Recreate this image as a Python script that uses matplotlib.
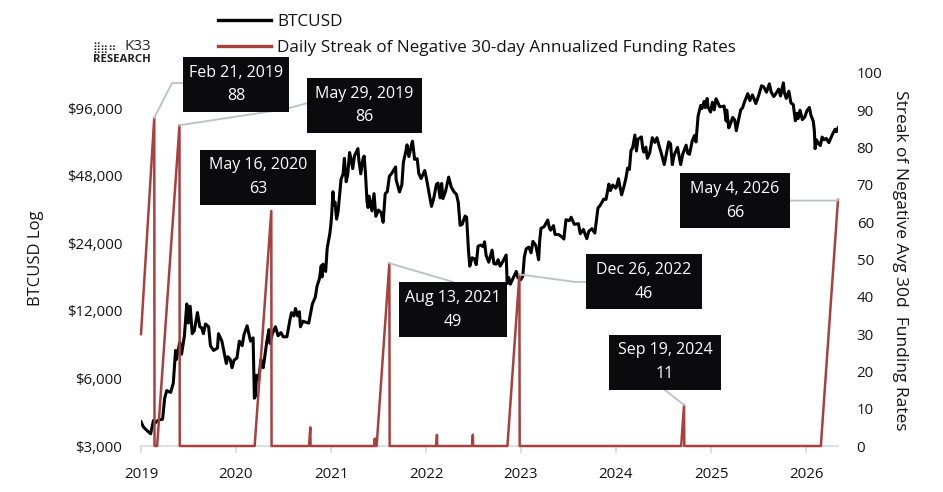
import matplotlib
matplotlib.use("Agg")
import matplotlib.pyplot as plt
import matplotlib.dates as mdates
from matplotlib.patches import Rectangle
from matplotlib.lines import Line2D
from matplotlib.ticker import FixedLocator, FuncFormatter, NullLocator
import pandas as pd

plt.rcParams["font.family"] = ["Open Sans", "DejaVu Sans"]

# ---------------------------------------------------------------------------
# Data
# ---------------------------------------------------------------------------

btc_dates = [
    # 2019
    "2019-01-01", "2019-01-10", "2019-01-20", "2019-02-01", "2019-02-07", "2019-02-18", "2019-02-24",
    "2019-03-10", "2019-03-25", "2019-04-02", "2019-04-10", "2019-04-25", "2019-05-05", "2019-05-14",
    "2019-05-17", "2019-05-30", "2019-06-06", "2019-06-17", "2019-06-26", "2019-07-02", "2019-07-09",
    "2019-07-17", "2019-07-25", "2019-08-06", "2019-08-15", "2019-08-22", "2019-08-29", "2019-09-06",
    "2019-09-18", "2019-09-25", "2019-10-07", "2019-10-22", "2019-10-26", "2019-11-08", "2019-11-22",
    "2019-11-25", "2019-12-01", "2019-12-10", "2019-12-17", "2019-12-25",
    # 2020
    "2020-01-05", "2020-01-14", "2020-01-25", "2020-02-01", "2020-02-13", "2020-02-19", "2020-02-26",
    "2020-03-07", "2020-03-12", "2020-03-16", "2020-03-20", "2020-03-29", "2020-04-06", "2020-04-15",
    "2020-04-29", "2020-05-07", "2020-05-11", "2020-05-20", "2020-06-01", "2020-06-11", "2020-06-22",
    "2020-07-01", "2020-07-15", "2020-07-27", "2020-08-02", "2020-08-11", "2020-08-17", "2020-08-25",
    "2020-09-01", "2020-09-05", "2020-09-15", "2020-09-24", "2020-10-07", "2020-10-21", "2020-11-01",
    "2020-11-08", "2020-11-17", "2020-11-24", "2020-11-27", "2020-12-01", "2020-12-11", "2020-12-17",
    "2020-12-27", "2020-12-31",
    # 2021
    "2021-01-03", "2021-01-08", "2021-01-11", "2021-01-16", "2021-01-22", "2021-01-28", "2021-02-08",
    "2021-02-16", "2021-02-21", "2021-02-28", "2021-03-06", "2021-03-13", "2021-03-18", "2021-03-25",
    "2021-04-01", "2021-04-14", "2021-04-18", "2021-04-25", "2021-05-03", "2021-05-08", "2021-05-13",
    "2021-05-19", "2021-05-23", "2021-05-27", "2021-06-07", "2021-06-15", "2021-06-22", "2021-07-02",
    "2021-07-12", "2021-07-20", "2021-07-28", "2021-08-05", "2021-08-13", "2021-08-23", "2021-09-06",
    "2021-09-08", "2021-09-21", "2021-09-30", "2021-10-06", "2021-10-15", "2021-10-20", "2021-10-27",
    "2021-11-08", "2021-11-10", "2021-11-18", "2021-11-28", "2021-12-04", "2021-12-13", "2021-12-27",
    # 2022
    "2022-01-03", "2022-01-10", "2022-01-22", "2022-01-30", "2022-02-10", "2022-02-16", "2022-02-24",
    "2022-03-02", "2022-03-07", "2022-03-17", "2022-03-29", "2022-04-08", "2022-04-18", "2022-04-28",
    "2022-05-05", "2022-05-12", "2022-05-20", "2022-05-31", "2022-06-06", "2022-06-13", "2022-06-18",
    "2022-06-27", "2022-07-06", "2022-07-13", "2022-07-20", "2022-07-30", "2022-08-09", "2022-08-14",
    "2022-08-20", "2022-08-30", "2022-09-12", "2022-09-19", "2022-09-28", "2022-10-05", "2022-10-13",
    "2022-10-25", "2022-11-05", "2022-11-09", "2022-11-15", "2022-11-21", "2022-12-05", "2022-12-14",
    "2022-12-20", "2022-12-31",
    # 2023
    "2023-01-08", "2023-01-14", "2023-01-21", "2023-01-31", "2023-02-09", "2023-02-16", "2023-02-27",
    "2023-03-10", "2023-03-14", "2023-03-19", "2023-03-31", "2023-04-14", "2023-04-20", "2023-04-25",
    "2023-05-06", "2023-05-12", "2023-05-25", "2023-06-05", "2023-06-15", "2023-06-23", "2023-07-06",
    "2023-07-13", "2023-07-25", "2023-08-10", "2023-08-17", "2023-08-29", "2023-09-11", "2023-09-19",
    "2023-10-01", "2023-10-12", "2023-10-24", "2023-11-01", "2023-11-09", "2023-11-15", "2023-11-24",
    "2023-12-05", "2023-12-11", "2023-12-20", "2023-12-31",
    # 2024
    "2024-01-03", "2024-01-11", "2024-01-17", "2024-01-23", "2024-02-01", "2024-02-09", "2024-02-15",
    "2024-02-22", "2024-02-28", "2024-03-05", "2024-03-14", "2024-03-20", "2024-03-26", "2024-04-08",
    "2024-04-13", "2024-04-17", "2024-04-25", "2024-05-01", "2024-05-10", "2024-05-20", "2024-05-30",
    "2024-06-07", "2024-06-14", "2024-06-24", "2024-07-05", "2024-07-14", "2024-07-22", "2024-07-29",
    "2024-08-05", "2024-08-12", "2024-08-25", "2024-09-06", "2024-09-14", "2024-09-27", "2024-10-03",
    "2024-10-10", "2024-10-20", "2024-10-29", "2024-11-04", "2024-11-12", "2024-11-22", "2024-11-27",
    "2024-12-05", "2024-12-10", "2024-12-17", "2024-12-20", "2024-12-30",
    # 2025
    "2025-01-06", "2025-01-13", "2025-01-20", "2025-01-27", "2025-02-03", "2025-02-12", "2025-02-20",
    "2025-02-28", "2025-03-02", "2025-03-10", "2025-03-18", "2025-03-25", "2025-04-02", "2025-04-08",
    "2025-04-15", "2025-04-25", "2025-05-02", "2025-05-10", "2025-05-22", "2025-05-30", "2025-06-09",
    "2025-06-17", "2025-06-22", "2025-07-03", "2025-07-14", "2025-07-22", "2025-08-02", "2025-08-13",
    "2025-08-20", "2025-08-30", "2025-09-08", "2025-09-18", "2025-09-25", "2025-10-06", "2025-10-10",
    "2025-10-17", "2025-10-27", "2025-11-04", "2025-11-13", "2025-11-21", "2025-11-27", "2025-12-01",
    "2025-12-09", "2025-12-18", "2025-12-27",
    # 2026
    "2026-01-05", "2026-01-14", "2026-01-20", "2026-01-29", "2026-02-02", "2026-02-05", "2026-02-10",
    "2026-02-18", "2026-02-25", "2026-03-04", "2026-03-12", "2026-03-20", "2026-03-30", "2026-04-08",
    "2026-04-15", "2026-04-23", "2026-04-28", "2026-05-04",
]
btc_prices = [
    # 2019
    3850, 3650, 3550, 3450, 3400, 3900, 3800,
    3920, 3950, 4900, 5300, 5200, 5700, 8000,
    7300, 8700, 7700, 9300, 12900, 10600, 12600,
    9500, 9800, 11800, 10200, 10100, 9500, 10500,
    10200, 8400, 8000, 8200, 9500, 8800, 7300,
    7000, 7500, 7300, 6700, 7250,
    # 2020
    7400, 8800, 8400, 9400, 10300, 9600, 8800,
    9100, 4900, 5000, 6200, 5900, 7300, 6700,
    8800, 9900, 8600, 9500, 10200, 9300, 9600,
    9200, 9200, 11000, 11800, 11400, 12300, 11400,
    11900, 10200, 10800, 10700, 10600, 12900, 13800,
    15500, 16700, 19100, 17000, 19400, 18000, 22900,
    26500, 29000,
    # 2021
    32000, 40800, 35500, 36700, 30800, 33400, 46200,
    49000, 57500, 45200, 48800, 61000, 57600, 51700,
    59000, 63500, 56000, 49000, 57000, 58800, 49500,
    37000, 34700, 39000, 33500, 40000, 31700, 33800,
    33000, 29800, 40000, 40800, 47800, 49500, 52600,
    46100, 40700, 43800, 55300, 61500, 66000, 58500,
    67500, 68500, 56900, 57200, 49300, 46700, 50700,
    # 2022
    46400, 41800, 35100, 37900, 44000, 44600, 38300,
    44400, 38000, 41000, 47400, 42800, 40800, 39700,
    36500, 28900, 29200, 31800, 31400, 22500, 19000,
    20700, 20500, 19300, 23300, 23600, 23200, 24400,
    21200, 19800, 22400, 19500, 19400, 20300, 19000,
    20100, 21300, 15900, 16900, 15800, 17100, 18000,
    16900, 16550,
    # 2023
    17100, 20900, 22700, 23100, 21800, 24500, 23500,
    20300, 24700, 28000, 28500, 30500, 28200, 27500,
    28800, 26300, 26300, 25800, 25100, 30600, 30300,
    31400, 29200, 29400, 26500, 27700, 25200, 27200,
    27900, 26700, 34500, 35400, 36700, 37800, 37700,
    44100, 41300, 43700, 42300,
    # 2024
    42800, 46600, 42700, 39500, 43000, 47200, 52000,
    51300, 62400, 63800, 73000, 62000, 70000, 71600,
    63900, 61300, 64500, 57500, 60800, 71000, 67700,
    71000, 66000, 60300, 53900, 60800, 68000, 66800,
    53900, 59400, 64300, 53900, 60000, 65800, 60600,
    59900, 68400, 72600, 68000, 88700, 98900, 95800,
    103000, 96600, 106200, 97500, 92400,
    # 2025
    102200, 94500, 106000, 102000, 97700, 97800, 98300,
    84300, 94300, 78600, 82700, 87500, 85200, 76300,
    83600, 94600, 96500, 103000, 111600, 104000, 110200,
    104500, 100900, 109500, 121000, 119900, 113300, 123400,
    113500, 108400, 112000, 117100, 109000, 124700, 112500,
    106400, 114500, 101500, 99800, 84500, 91300, 86300,
    94200, 85500, 87800,
    # 2026
    93800, 96900, 89500, 84000, 76500, 63500, 69500,
    67000, 65500, 71500, 69500, 70500, 67500, 71500,
    74500, 77500, 75500, 78500,
]

# Daily streak of negative 30d annualized funding: vertices of the saw-tooth
streak_dates = [
    "2019-01-01", "2019-02-21", "2019-02-22", "2019-03-04", "2019-05-29", "2019-05-30",
    "2020-03-13", "2020-05-16", "2020-05-17",
    "2020-10-08", "2020-10-13", "2020-10-14",
    "2021-06-16", "2021-06-18", "2021-06-19",
    "2021-06-25", "2021-08-13", "2021-08-14",
    "2022-02-09", "2022-02-12", "2022-02-13",
    "2022-06-27", "2022-06-30", "2022-07-01",
    "2022-11-10", "2022-12-26", "2022-12-27",
    "2024-09-08", "2024-09-19", "2024-09-20",
    "2026-02-27", "2026-05-04",
]
streak_values = [
    30, 88, 0, 0, 86, 0,
    0, 63, 0,
    0, 5, 0,
    0, 2, 0,
    0, 49, 0,
    0, 3, 0,
    0, 3, 0,
    0, 46, 0,
    0, 11, 0,
    0, 66,
]

price_ticks = [3000, 6000, 12000, 24000, 48000, 96000]
streak_ticks = [0, 10, 20, 30, 40, 50, 60, 70, 80, 90, 100]

# Highlighted streak peaks
peak_dates = ["2019-02-21", "2019-05-29", "2020-05-16", "2021-08-13",
              "2022-12-26", "2024-09-19", "2026-05-04"]
peak_values = [88, 86, 63, 49, 46, 11, 66]

# Callout layout: box centre (year, streak units), box width (years),
# leader path from box edge (list of (year, streak) points, ends at the peak)
box_centers = [(2020.00, 96.9), (2021.353, 91.3), (2020.232, 72.1), (2022.284, 36.5),
               (2024.295, 44.0), (2024.516, 22.5), (2025.253, 65.8)]
box_widths = [1.116, 1.21, 1.221, 1.137, 1.221, 1.179, 1.158]
box_height = 14.75
leader_paths = [
    [(2019.442, 97.3), (2019.326, 97.3)],
    [(2020.747, 91.9), (2020.516, 90.3)],
    [],
    [(2022.284, 44.0)],
    [(2023.684, 44.0), (2023.568, 44.0)],
    [(2024.516, 15.0)],
    [(2025.832, 65.8), (2026.326, 65.8)],
]

BLACK = "#000000"
RED = "#a8403f"
GREY = "#bfc3c7"
BOX = "#0b0b0d"
TEXT = "#141414"

# ---------------------------------------------------------------------------
# Chart
# ---------------------------------------------------------------------------

START = mdates.date2num(pd.Timestamp("2019-01-01"))


def yr(y):
    return START + (y - 2019.0) * 365.25


fig = plt.figure(figsize=(9.43, 4.92), dpi=100)
ax = fig.add_axes([141 / 943, 46 / 492, 697 / 943, 373 / 492])

btc_x = mdates.date2num(pd.to_datetime(btc_dates))
ax.plot(btc_x, btc_prices, color=BLACK, lw=2.2, solid_joinstyle="round", zorder=2)
ax.set_yscale("log", base=2)
ax.set_ylim(3000, 138000)
ax.yaxis.set_major_locator(FixedLocator(price_ticks))
ax.yaxis.set_minor_locator(NullLocator())
ax.yaxis.set_major_formatter(FuncFormatter(lambda v, p: f"${v:,.0f}"))

ax.set_xlim(START, mdates.date2num(pd.Timestamp("2026-05-04")))
ax.xaxis.set_major_locator(mdates.YearLocator())
ax.xaxis.set_major_formatter(mdates.DateFormatter("%Y"))

for s in ["top", "right", "left"]:
    ax.spines[s].set_visible(False)
ax.spines["bottom"].set_color("#dadde1")
ax.spines["bottom"].set_linewidth(1.3)
ax.tick_params(axis="x", colors="#dadde1", length=5, width=1.3, pad=10,
               labelcolor=TEXT, labelsize=10.8)
ax.tick_params(axis="y", length=0, pad=13.5, labelcolor=TEXT, labelsize=10.8)

ax2 = ax.twinx()
streak_x = mdates.date2num(pd.to_datetime(streak_dates))
ax2.plot(streak_x, streak_values, color=RED, lw=1.8, clip_on=False, zorder=3)
ax2.set_ylim(0, 100)
ax2.yaxis.set_major_locator(FixedLocator(streak_ticks))
for s in ax2.spines.values():
    s.set_visible(False)
ax2.tick_params(axis="y", length=0, pad=13.5, labelcolor=TEXT, labelsize=10.8)

# callouts
line_off = 3.2  # half the line spacing, in streak units
for d, v, (cx, cy), w, path in zip(peak_dates, peak_values, box_centers,
                                    box_widths, leader_paths):
    ts = pd.Timestamp(d)
    px = mdates.date2num(ts)
    if path:
        xs = [yr(p[0]) for p in path] + [px]
        ys = [p[1] for p in path] + [v]
        ax2.plot(xs, ys, color=GREY, lw=1.4, clip_on=False, zorder=4)
    ax2.add_patch(Rectangle((yr(cx - w / 2), cy - box_height / 2), w * 365.25, box_height,
                            facecolor=BOX, edgecolor="none", clip_on=False, zorder=5))
    label = f"{ts:%b} {ts.day}, {ts.year}"
    ax2.text(yr(cx), cy + line_off, label, color="white", fontsize=11.5,
             ha="center", va="center", zorder=6, clip_on=False)
    ax2.text(yr(cx), cy - line_off, str(v), color="white", fontsize=11.5,
             ha="center", va="center", zorder=6, clip_on=False)

# axis titles
fig.text(36 / 943, 1 - 258 / 492, "BTCUSD Log", rotation=90, ha="center", va="center",
         fontsize=12, color=TEXT)
fig.text(900 / 943, 1 - 260 / 492, "Streak of Negative Avg 30d  Funding Rates",
         rotation=270, ha="center", va="center", fontsize=12.5, color=TEXT)

# legend
handles = [Line2D([], [], color=BLACK, lw=2.4), Line2D([], [], color=RED, lw=2.4)]
fig.legend(handles, ["BTCUSD", "Daily Streak of Negative 30-day Annualized Funding Rates"],
           loc="upper left", bbox_to_anchor=(218 / 943, 1 - 14 / 492), frameon=False,
           fontsize=12.3, handlelength=3.1, handletextpad=0.35, labelspacing=0.6,
           borderpad=0, borderaxespad=0, labelcolor=TEXT)

# logo
fig.text(92 / 943, 1 - 47.5 / 492, "\u28ff\u28f6\u2836", fontsize=8, color="#222222",
         ha="left", va="center", family=["DejaVu Sans"])
fig.text(125 / 943, 1 - 47 / 492, "K33", fontsize=11, color="#222222", ha="left", va="center")
fig.text(93 / 943, 1 - 60 / 492, "RESEARCH", fontsize=8.2, fontweight="bold", color="#222222",
         ha="left", va="center")

fig.savefig("out.png", dpi=100, facecolor="white")
